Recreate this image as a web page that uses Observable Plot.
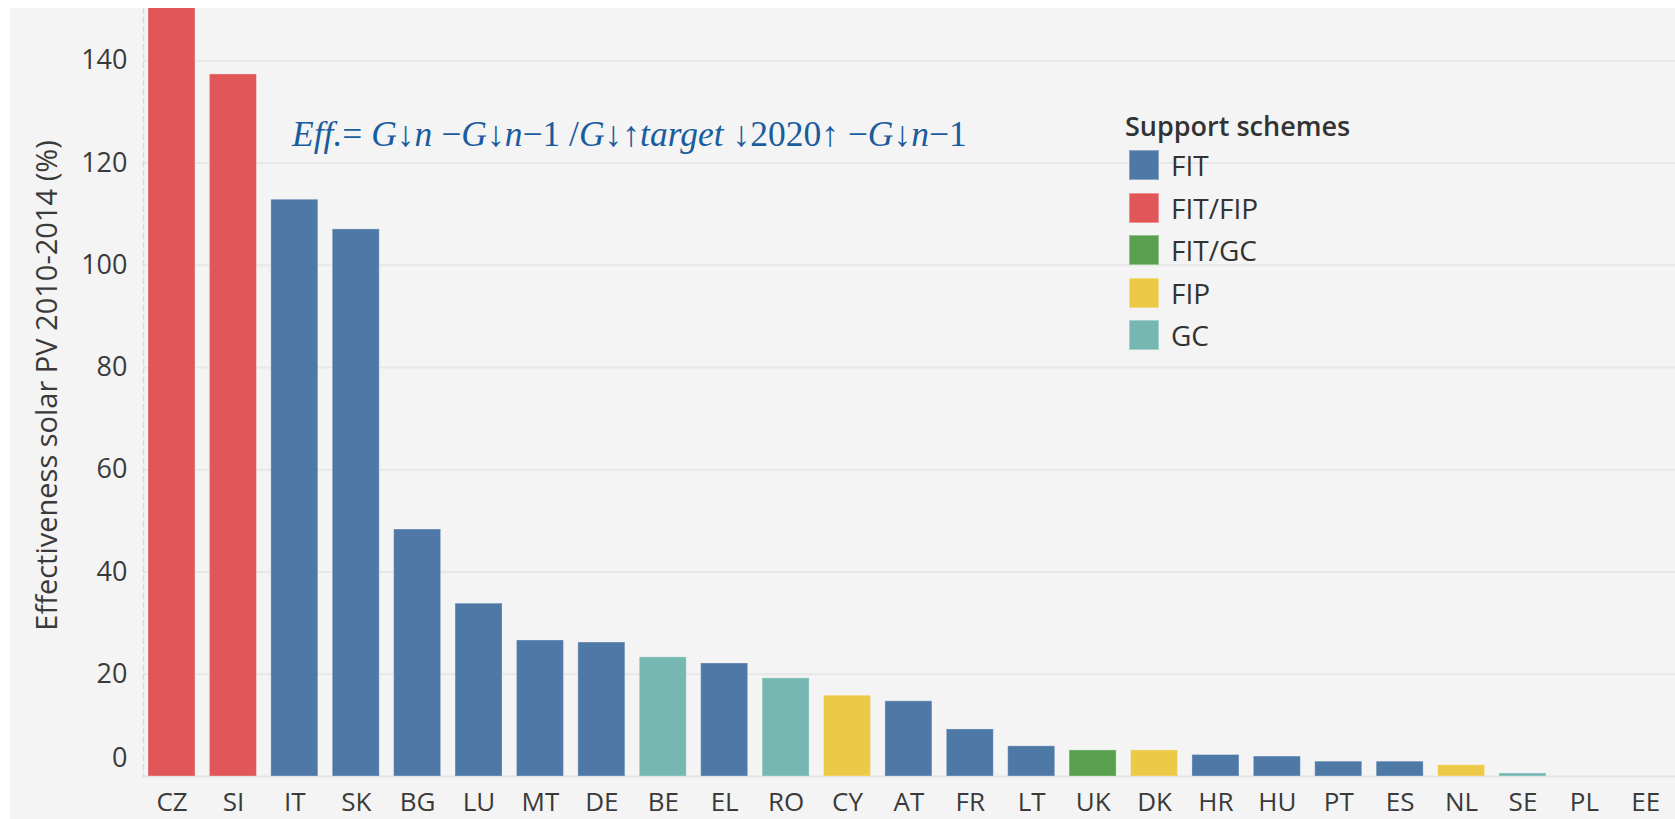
<!DOCTYPE html>
<html>
<head>
<meta charset="utf-8">
<script src="https://cdn.jsdelivr.net/npm/d3@7"></script>
<script src="https://cdn.jsdelivr.net/npm/@observablehq/plot@0.6"></script>
<style>
  html, body { margin: 0; padding: 0; background: #ffffff; }
  #wrap { position: relative; margin: 8px 0 0 10px; width: 1665px; height: 811px; background: #f4f4f4; overflow: hidden; font-family: "Open Sans", sans-serif; }
  #chart svg { display: block; }
  #formula { position: absolute; left: 282px; top: 109px; font-family: "Liberation Serif", serif; font-size: 35.5px; line-height: 35px; color: #1a5c9e; white-space: pre; }
  #formula i { font-style: italic; }
  #legend { position: absolute; left: 1115px; top: 104px; color: #333; }
  #legend .title { font-size: 27px; font-weight: 600; line-height: 27px; margin-bottom: 11px; }
  #legend .item { display: flex; align-items: center; height: 30px; margin-bottom: 12.5px; margin-left: 4px; }
  #legend .sw { width: 30px; height: 30px; margin-right: 12px; box-sizing: border-box; border: 1px solid rgba(255,255,255,0.35); }
  #legend .lab { font-size: 28px; line-height: 30px; }
</style>
</head>
<body>
<div id="wrap">
  <div id="chart"></div>
  <div id="formula"></div>
  <div id="legend"></div>
</div>
<script>
const countries = ["CZ","SI","IT","SK","BG","LU","MT","DE","BE","EL","RO","CY","AT","FR","LT","UK","DK","HR","HU","PT","ES","NL","SE","PL","EE"];
const values = [160, 137.3, 112.8, 107.0, 48.3, 33.8, 26.6, 26.2, 23.3, 22.1, 19.2, 15.8, 14.7, 9.2, 5.9, 5.1, 5.1, 4.2, 3.9, 2.9, 2.9, 2.2, 0.6, 0, 0];
const schemes = ["FIT/FIP","FIT/FIP","FIT","FIT","FIT","FIT","FIT","FIT","GC","FIT","GC","FIP","FIT","FIT","FIT","FIT/GC","FIP","FIT","FIT","FIT","FIT","FIP","GC","GC","FIP"];
const schemeNames = ["FIT","FIT/FIP","FIT/GC","FIP","GC"];
const schemeColors = ["#4e79a7","#e15759","#59a14f","#edc948","#76b7b2"];
const yTicks = [20, 40, 60, 80, 100, 120, 140];
const yTitle = "Effectiveness solar PV 2010-2014 (%)";
const legendTitle = "Support schemes";

const data = countries.map((c, i) => ({country: c, value: values[i], scheme: schemes[i]}));

const chart = Plot.plot({
  width: 1665,
  height: 811,
  marginLeft: 133,
  marginRight: 0,
  marginTop: 0,
  marginBottom: 43,
  style: {background: "transparent", fontFamily: "Open Sans", fontSize: "27px", color: "#3a3a3a"},
  x: {domain: countries, range: [130.8, 1666], paddingInner: 0.2347, paddingOuter: 0.1174, round: false, label: null},
  y: {domain: [0, 150.2], label: null},
  color: {domain: schemeNames, range: schemeColors},
  marks: [
    Plot.gridY(yTicks, {stroke: "#e7e7e7", strokeOpacity: 1, strokeWidth: 2}),
    Plot.ruleY([0], {stroke: "#e4e4e4", strokeWidth: 2}),
    Plot.frame({anchor: "left", stroke: "#d9d9d9", strokeDasharray: "5,4", strokeWidth: 1.5}),
    Plot.barY(data, {x: "country", y: "value", fill: "scheme", clip: true, stroke: "#ffffff", strokeOpacity: 0.3, strokeWidth: 1}),
    Plot.axisX({tickSize: 0, tickPadding: 16, fontSize: 26, label: null}),
    Plot.axisY({ticks: yTicks, tickSize: 0, tickPadding: 16, label: null}),
    Plot.axisY({ticks: [0], tickSize: 0, tickPadding: 16, dy: -18, label: null}),
    Plot.text([yTitle], {frameAnchor: "left", rotate: -90, dx: -96, dy: -7, textAnchor: "middle", lineAnchor: "middle", fontSize: 29, fill: "#3a3a3a"})
  ]
});
document.getElementById("chart").appendChild(chart);

// formula annotation
document.getElementById("formula").innerHTML =
  '<i>Eff.</i>= <i>G</i>↓<i>n</i> −<i>G</i>↓<i>n</i>−1 /<i>G</i>↓↑<i>target</i> ↓2020↑ −<i>G</i>↓<i>n</i>−1';

// legend
const leg = document.getElementById("legend");
const t = document.createElement("div");
t.className = "title";
t.textContent = legendTitle;
leg.appendChild(t);
schemeNames.forEach((name, i) => {
  const row = document.createElement("div");
  row.className = "item";
  const sw = document.createElement("div");
  sw.className = "sw";
  sw.style.background = schemeColors[i];
  const lab = document.createElement("div");
  lab.className = "lab";
  lab.textContent = name;
  row.appendChild(sw);
  row.appendChild(lab);
  leg.appendChild(row);
});
</script>
</body>
</html>
